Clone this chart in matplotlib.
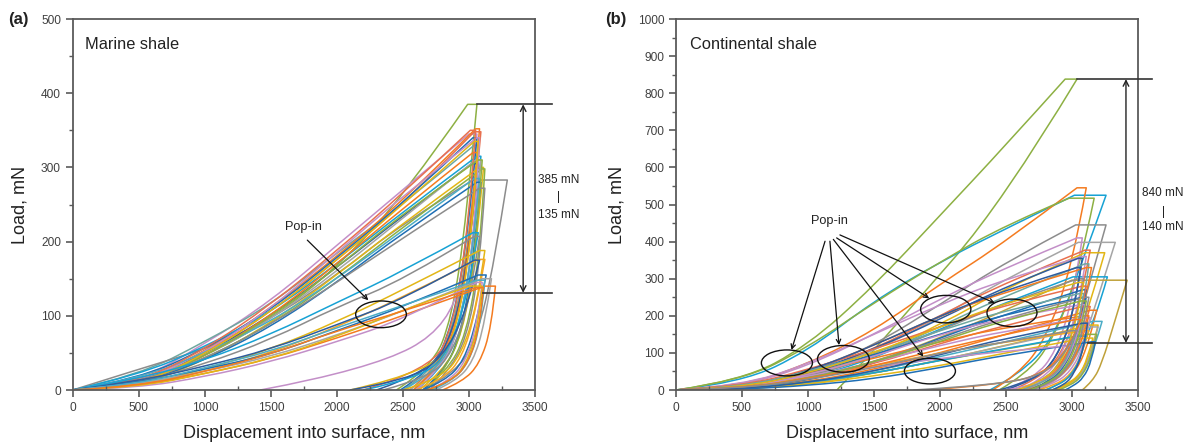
import matplotlib

matplotlib.use("Agg")

import matplotlib.pyplot as plt
from matplotlib.patches import Ellipse, PathPatch
from matplotlib.path import Path
from matplotlib.ticker import MultipleLocator

plt.rcParams["font.family"] = ["Liberation Sans", "DejaVu Sans"]

INK = "#404040"
SPINE = "#5A5A5A"

BLUE = "#1F6FB5"
DBLUE = "#2E5C9E"
ORANGE = "#F47B20"
RED = "#E8704E"
GRAY = "#8C8C8C"
LGRAY = "#A5A5A5"
YELLOW = "#E2B616"
GOLD = "#F5A623"
CYAN = "#17A2D4"
TEAL = "#4BACC6"
SAGE = "#6FA8A0"
OLIVE = "#8DB043"
KHAKI = "#BFA13A"
PURPLE = "#C38FC8"

# depths (nm) at which loading-branch loads are read
LOAD_DEPTHS = [500, 1000, 1500, 2000, 2500]
# unloading points are read at these fractions of the peak load
UNLOAD_FRACS = [0.60, 0.25, 0.08, 0.0]

# ---- (a) Marine shale -------------------------------------------------------
A_COLORS = [
    OLIVE, PURPLE, SAGE, GRAY, ORANGE, RED, BLUE, CYAN, YELLOW, OLIVE,
    DBLUE, LGRAY, ORANGE, PURPLE, TEAL, BLUE, RED, OLIVE, GRAY, YELLOW,
    CYAN, GRAY, YELLOW, GOLD, DBLUE, BLUE, LGRAY, ORANGE, PURPLE, YELLOW,
    TEAL, ORANGE,
]
# loads (mN) at LOAD_DEPTHS
A_LOADS = [
    [10, 45, 95, 165, 260], [12, 62, 120, 195, 270], [20, 65, 115, 185, 250],
    [28, 55, 95, 155, 225], [8, 52, 110, 180, 255], [8, 50, 105, 175, 250],
    [15, 55, 108, 178, 252], [20, 58, 105, 170, 240], [5, 40, 90, 155, 225],
    [6, 42, 88, 150, 220], [10, 48, 100, 165, 235], [12, 45, 95, 160, 232],
    [6, 45, 100, 170, 245], [10, 50, 110, 185, 262], [15, 50, 92, 150, 215],
    [8, 40, 85, 145, 212], [10, 55, 115, 188, 265], [8, 45, 98, 165, 238],
    [10, 42, 88, 145, 205], [6, 48, 105, 175, 250],
    [15, 40, 75, 118, 160], [10, 35, 68, 112, 148], [5, 28, 55, 92, 135],
    [5, 25, 50, 85, 125], [12, 32, 55, 88, 122], [10, 28, 48, 80, 112],
    [8, 25, 45, 74, 106], [5, 22, 42, 70, 100], [3, 18, 38, 65, 95],
    [4, 22, 42, 72, 108], [8, 30, 52, 84, 114], [5, 25, 48, 80, 106],
]
# peak depth (nm), peak load (mN), depth at end of hold (nm)
A_PEAK = [
    (2990, 385, 3060), (3000, 345, 3060), (3040, 330, 3070), (3030, 283, 3290),
    (3050, 352, 3080), (3040, 348, 3090), (3030, 340, 3060), (3060, 315, 3090),
    (3080, 300, 3110), (3100, 298, 3120), (3020, 305, 3070), (3050, 310, 3090),
    (3030, 320, 3070), (3060, 340, 3080), (3040, 285, 3080), (3060, 280, 3090),
    (3010, 350, 3050), (3070, 310, 3100), (3080, 272, 3120), (3040, 335, 3070),
    (3030, 212, 3070), (3040, 207, 3080), (3080, 188, 3120), (3070, 176, 3120),
    (3040, 175, 3080), (3070, 155, 3130), (3100, 150, 3170), (3120, 140, 3200),
    (3060, 145, 3100), (3000, 140, 3100), (3060, 148, 3120), (3050, 138, 3110),
]
# depths (nm) at UNLOAD_FRACS of the peak load
A_UNLOAD = [
    (2980, 2870, 2720, 2450), (2990, 2870, 2250, 1420), (3000, 2880, 2730, 2500),
    (3190, 3060, 2900, 2650), (3010, 2900, 2750, 2550), (3020, 2910, 2760, 2580),
    (2990, 2870, 2720, 2480), (3030, 2920, 2780, 2600), (3050, 2950, 2800, 2620),
    (3080, 2980, 2830, 2650), (3000, 2880, 2700, 2300), (3030, 2920, 2770, 2550),
    (3010, 2900, 2750, 2580), (3040, 2930, 2780, 2600), (3020, 2900, 2740, 2500),
    (3030, 2930, 2800, 2650), (2990, 2880, 2720, 2200), (3050, 2950, 2810, 2680),
    (3080, 2980, 2830, 2700), (3020, 2910, 2760, 2100),
    (2990, 2850, 2650, 2200), (3010, 2880, 2700, 2350), (3060, 2940, 2780, 2500),
    (3050, 2950, 2800, 2600), (2980, 2800, 2550, 2100), (3060, 2960, 2820, 2650),
    (3120, 3030, 2900, 2750), (3170, 3080, 2950, 2800), (3060, 2970, 2840, 2700),
    (3070, 2980, 2860, 2700), (3090, 3000, 2870, 2720), (3080, 2990, 2860, 2680),
]

# ---- (b) Continental shale --------------------------------------------------
B_COLORS = [
    OLIVE, CYAN, ORANGE, OLIVE, GRAY, LGRAY, PURPLE, YELLOW, CYAN, KHAKI,
    RED, PURPLE, DBLUE, SAGE, ORANGE, GRAY, BLUE, RED, ORANGE, TEAL,
    YELLOW, PURPLE, LGRAY, GOLD, OLIVE, CYAN, YELLOW, BLUE, PURPLE, ORANGE,
    BLUE, GRAY, RED, PURPLE, DBLUE, SAGE, YELLOW, OLIVE, DBLUE, ORANGE, GRAY,
]
B_LOADS = [
    [25, 120, 280, 470, 660], [20, 105, 240, 345, 435], [10, 70, 160, 285, 400],
    [25, 115, 235, 345, 445], [8, 45, 120, 230, 345], [8, 40, 105, 195, 300],
    [10, 65, 150, 245, 330], [6, 38, 95, 175, 275], [5, 30, 85, 165, 235],
    [4, 28, 75, 140, 215], [5, 40, 110, 200, 290], [12, 70, 150, 230, 300],
    [6, 45, 110, 190, 280], [5, 35, 90, 170, 255], [8, 50, 120, 200, 265],
    [5, 35, 90, 160, 235], [3, 25, 70, 140, 205], [5, 30, 70, 125, 175],
    [3, 22, 55, 100, 150], [3, 20, 50, 90, 130], [2, 15, 45, 80, 120],
    [6, 35, 75, 120, 160], [3, 18, 45, 80, 120], [8, 35, 65, 100, 130],
    [3, 20, 45, 80, 110], [4, 20, 45, 80, 112], [2, 15, 38, 65, 100],
    [2, 12, 30, 60, 95], [10, 38, 62, 85, 105], [10, 45, 85, 130, 170],
    [8, 45, 95, 150, 205], [5, 30, 75, 135, 195], [10, 55, 110, 170, 230],
    [5, 40, 90, 150, 195], [5, 50, 120, 200, 270], [8, 50, 100, 160, 215],
    [6, 45, 100, 170, 235], [4, 30, 75, 130, 190], [3, 20, 50, 95, 140],
    [6, 30, 65, 110, 150], [5, 28, 60, 100, 130],
]
B_PEAK = [
    (2950, 838, 3040), (3020, 525, 3260), (3040, 545, 3110), (2980, 517, 3170),
    (3030, 445, 3260), (3050, 398, 3330), (3040, 410, 3080), (3100, 370, 3250),
    (3010, 305, 3270), (3000, 296, 3420), (3100, 377, 3140), (3080, 360, 3110),
    (3050, 355, 3080), (3100, 340, 3130), (3110, 330, 3150), (3050, 300, 3090),
    (3080, 270, 3110), (3080, 225, 3140), (3140, 215, 3190), (3160, 185, 3230),
    (3140, 175, 3200), (3110, 195, 3140), (3150, 170, 3200), (3100, 160, 3130),
    (3120, 150, 3190), (3030, 145, 3110), (3100, 140, 3160), (3150, 130, 3180),
    (3000, 120, 3050), (3100, 200, 3130), (3080, 250, 3110), (3100, 250, 3130),
    (3080, 280, 3110), (3070, 230, 3100), (3040, 330, 3070), (3060, 260, 3090),
    (3050, 290, 3090), (3070, 240, 3110), (3080, 180, 3120), (3030, 190, 3070),
    (3000, 160, 3040),
]
B_UNLOAD = [
    (2470, 1750, 1400, 1220), (3050, 2850, 2600, 2380), (3000, 2800, 2600, 2400),
    (3050, 2850, 2650, 2450), (3120, 2990, 2850, 2650), (3190, 3060, 2920, 2750),
    (3010, 2880, 2720, 2500), (3130, 3000, 2860, 2700), (3175, 3000, 2850, 2700),
    (3320, 3230, 3160, 3080), (3060, 2920, 2750, 2550), (3050, 2920, 2780, 2600),
    (3020, 2890, 2730, 2500), (3080, 2970, 2830, 2650), (3080, 2950, 2800, 2620),
    (3030, 2920, 2780, 2600), (3050, 2950, 2830, 2700), (3070, 2970, 2840, 2700),
    (3130, 3040, 2920, 2800), (3170, 3090, 2980, 2870), (3150, 3070, 2960, 2850),
    (3090, 2990, 2860, 2700), (3150, 3080, 2980, 2880), (3080, 2990, 2870, 2750),
    (3150, 3080, 2990, 2900), (3070, 2990, 2890, 2800), (3120, 3050, 2960, 2870),
    (3150, 3090, 3010, 2950), (3000, 2900, 2750, 2550), (3070, 2960, 2820, 2650),
    (3050, 2950, 2820, 2680), (3080, 2980, 2850, 2700), (3050, 2940, 2800, 2620),
    (3040, 2930, 2790, 2500), (3010, 2880, 2720, 2450), (3040, 2940, 2800, 2620),
    (3030, 2920, 2780, 2580), (3060, 2960, 2830, 2680), (3090, 3020, 2950, 2850),
    (2980, 2800, 2500, 1900), (2950, 2780, 2400, 1800),
]

# pop-in ellipses: centre depth, centre load, width (nm), height (mN)
A_POPIN = [(2334, 102, 384, 36)]
B_POPIN = [
    (841, 73, 387, 70), (1269, 84, 392, 72), (1925, 51, 387, 69),
    (2045, 218, 381, 74), (2547, 208, 379, 74),
]
# arrows: (text-side point) -> (ellipse-side point), data units
A_ARROWS = [((1776, 202), (2238, 121))]
B_ARROWS = [
    ((1130, 401), (876, 108)), ((1167, 401), (1236, 121)),
    ((1193, 406), (1875, 90)), ((1218, 410), (1920, 247)),
    ((1243, 418), (2418, 234)),
]
A_RANGE = ["385 mN", "135 mN"]
B_RANGE = ["840 mN", "140 mN"]


def smooth_path(pts):
    """Quadratic B-spline path that uses the data points as control points."""
    verts = [pts[0]]
    codes = [Path.MOVETO]
    if len(pts) == 2:
        verts.append(pts[1])
        codes.append(Path.LINETO)
        return verts, codes
    for i in range(1, len(pts) - 1):
        nxt = pts[i + 1] if i == len(pts) - 2 else (
            (pts[i][0] + pts[i + 1][0]) / 2, (pts[i][1] + pts[i + 1][1]) / 2)
        verts += [pts[i], nxt]
        codes += [Path.CURVE3, Path.CURVE3]
    return verts, codes


def draw_curves(ax, colors, loads, peaks, unloads):
    for color, ld, (hmax, pmax, hold), ul in zip(colors, loads, peaks, unloads):
        load_pts = [(0, 0)] + list(zip(LOAD_DEPTHS, ld)) + [(hmax, pmax)]
        unload_pts = [(hold, pmax)] + [
            (h, pmax * f) for h, f in zip(ul, UNLOAD_FRACS)]
        v1, c1 = smooth_path(load_pts)
        v2, c2 = smooth_path(unload_pts)
        verts = v1 + v2
        codes = c1 + [Path.LINETO] + c2[1:]
        ax.add_patch(PathPatch(Path(verts, codes), fill=False, ec=color,
                               lw=1.1, joinstyle="round"))


def style_axis(ax, ymax, ymajor, yminor):
    ax.set_xlim(0, 3500)
    ax.set_ylim(0, ymax)
    ax.xaxis.set_major_locator(MultipleLocator(500))
    ax.xaxis.set_minor_locator(MultipleLocator(250))
    ax.yaxis.set_major_locator(MultipleLocator(ymajor))
    ax.yaxis.set_minor_locator(MultipleLocator(yminor))
    for sp in ax.spines.values():
        sp.set_color(SPINE)
        sp.set_linewidth(1.3)
    ax.tick_params(which="major", length=5, width=1.2, color=SPINE,
                   labelsize=8.6, labelcolor=INK, direction="out")
    ax.tick_params(axis="x", which="minor", length=3, width=1.0,
                   color=SPINE, direction="in")
    ax.tick_params(axis="y", which="minor", length=3, width=1.0,
                   color=SPINE, direction="out")
    ax.set_xlabel("Displacement into surface, nm", fontsize=13,
                  color="#222222", labelpad=8)
    ax.set_ylabel("Load, mN", fontsize=13, color="#222222", labelpad=9)


def draw_range(ax, top, bottom, x_arrow, x_top0, x_bot0, x_end, x_text,
               y_text, labels):
    kw = dict(color="#333333", lw=1.2, clip_on=False, zorder=5)
    ax.plot([x_top0, x_end], [top, top], **kw)
    ax.plot([x_bot0, x_end], [bottom, bottom], **kw)
    ax.annotate("", xy=(x_arrow, top), xytext=(x_arrow, bottom),
                annotation_clip=False,
                arrowprops=dict(arrowstyle="<->", color="#222222", lw=1.0,
                                shrinkA=0, shrinkB=0, mutation_scale=10))
    for txt, y in zip([labels[0], "|", labels[1]], y_text):
        ax.text(x_text, y, txt, ha="center", va="center", fontsize=8.5,
                color="#222222", clip_on=False)


def draw_popins(ax, ellipses, arrows, text_xy):
    for cx, cy, w, h in ellipses:
        ax.add_patch(Ellipse((cx, cy), w, h, fill=False, ec="#111111",
                             lw=1.0, zorder=6))
    for start, end in arrows:
        ax.annotate("", xy=end, xytext=start,
                    arrowprops=dict(arrowstyle="->", color="#111111", lw=0.9,
                                    shrinkA=0, shrinkB=0, mutation_scale=8),
                    zorder=6)
    ax.text(*text_xy, "Pop-in", ha="center", va="center", fontsize=9.2,
            color="#222222", zorder=6)


fig = plt.figure(figsize=(11.84, 4.44), dpi=100)
ax_a = fig.add_axes([0.0614, 0.1216, 0.3905, 0.8356])
ax_b = fig.add_axes([0.5709, 0.1216, 0.3900, 0.8356])

draw_curves(ax_a, A_COLORS, A_LOADS, A_PEAK, A_UNLOAD)
style_axis(ax_a, 500, 100, 50)
draw_popins(ax_a, A_POPIN, A_ARROWS, (1743, 220))
draw_range(ax_a, 385, 131, 3410, 3060, 3107, 3629, 3679,
           [283, 260, 236], A_RANGE)
ax_a.text(0.026, 0.93, "Marine shale", transform=ax_a.transAxes,
          fontsize=11.8, color="#222222", va="center")
fig.text(0.007, 0.955, "(a)", fontsize=12, fontweight="bold",
         color="#222222", va="center")

draw_curves(ax_b, B_COLORS, B_LOADS, B_PEAK, B_UNLOAD)
style_axis(ax_b, 1000, 100, 50)
draw_popins(ax_b, B_POPIN, B_ARROWS, (1167, 456))
draw_range(ax_b, 838, 127, 3411, 3040, 3123, 3608, 3692,
           [531, 481, 440], B_RANGE)
ax_b.text(0.03, 0.93, "Continental shale", transform=ax_b.transAxes,
          fontsize=11.8, color="#222222", va="center")
fig.text(0.511, 0.955, "(b)", fontsize=12, fontweight="bold",
         color="#222222", va="center")

fig.savefig("out.png", dpi=100)
